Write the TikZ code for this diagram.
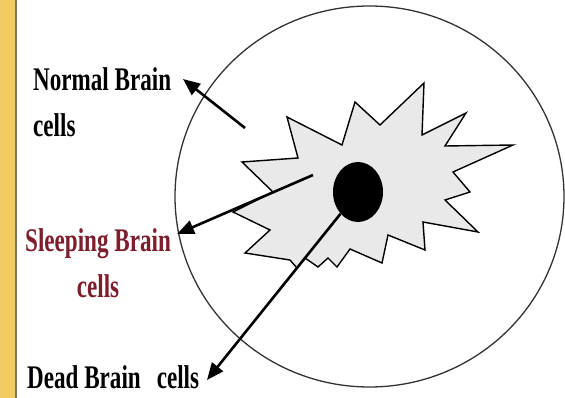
\documentclass[tikz,border=0pt]{standalone}
\usepackage{fontspec}
\setmainfont[FakeStretch=0.7]{Liberation Serif}
\usetikzlibrary{arrows.meta,shapes.geometric}
\definecolor{barfill}{HTML}{F2CC62}
\definecolor{barline}{HTML}{7D7355}
\definecolor{sleepred}{HTML}{7E1E2C}
\definecolor{starfill}{HTML}{E9E9E9}
\begin{document}
\begin{tikzpicture}[x=1pt,y=-1pt,
  lbl/.style={inner sep=0pt, font=\fontsize{33}{46}\selectfont\bfseries},
  pointer/.style={line width=2.6pt, -{Triangle[length=17pt,width=14pt]}},
  rim/.style={line width=1.3pt, draw=black!80},
  burst/.style={fill=starfill, draw=black, line width=1.4pt, line join=miter},
]
\useasboundingbox (0,0) rectangle (565,398);
\fill[white] (0,0) rectangle (565,398);
\fill[barfill] (0,0) rectangle (15,398);
\draw[barline, line width=1.2pt] (16,0) -- (16,398);
% outer cell
\draw[rim] (369.5,196.5) ellipse [x radius=194.5, y radius=190.5];
% star burst
\draw[burst] (242,162) -- (298,158) -- (287,117) -- (342,145) -- (355,102)
  -- (380,125) -- (424,83) -- (422,135) -- (466,113) -- (445,146)
  -- (513,145) -- (453,172) -- (470,192) -- (445,200) -- (478,232)
  -- (423,222) -- (425,250) -- (388,235) -- (382,263) -- (350,249)
  -- (337,267) -- (328,258) -- (318,267) -- (305,258) -- (297,268)
  -- (290,260) -- (245,253) -- (270,230) -- (233,212) -- (273,192) -- cycle;
\node[ellipse, fill=black, minimum width=50pt, minimum height=60pt, inner sep=0pt] (dot) at (358,192) {};
% labels
\node[lbl, anchor=north west, align=left] (normal) at (33,67.5) {Normal Brain\\cells};
\node[lbl, anchor=north, align=center, text=sleepred] (sleep) at (98,228.5) {Sleeping Brain\\cells};
\node[lbl, anchor=base west] (dead) at (27,388) {Dead Brain\hspace{16pt}cells};
% arrows
\coordinate (ntail) at (245,128);
\coordinate (ntip) at (183,79);
\coordinate (stail) at (313,175);
\coordinate (stip) at (177,234);
\coordinate (dtip) at (207,380);
\draw[pointer] (ntail) -- (ntip);
\draw[pointer] (stail) -- (stip);
\draw[pointer] (dot) -- (dtip);
\end{tikzpicture}
\end{document}
